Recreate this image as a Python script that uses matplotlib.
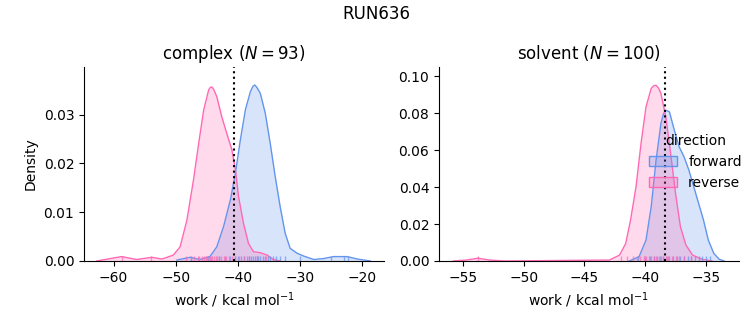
import matplotlib
matplotlib.use("Agg")
import matplotlib.pyplot as plt
from matplotlib.patches import Patch
import matplotlib.transforms as mtransforms

# ---- data (KDE curves: work value, density) ----
complex_fwd_x = [-49.8, -47.7, -46.1, -44.5, -43.4, -42.3, -41.2, -40.4, -39.6, -38.8, -38.0, -37.6, -37.3,
                 -37.0, -36.4, -35.6, -34.8, -34.0, -33.2, -32.4, -31.6, -30.5, -29.4, -27.8, -26.2, -24.6,
                 -22.45, -20.8, -18.7]
complex_fwd_y = [0.0002, 0.00075, 0.0003, 0.0009, 0.0029, 0.0071, 0.0126, 0.018, 0.0249, 0.031, 0.0347,
                 0.0358, 0.0361, 0.0357, 0.0344, 0.0303, 0.0241, 0.0173, 0.0111, 0.0057, 0.0026, 0.0016,
                 0.001, 0.0003, 0.0005, 0.0009, 0.0009, 0.0004, 0.0]
complex_rev_x = [-62.7, -58.7, -56.3, -53.85, -52.2, -50.4, -49.3, -48.2, -47.15, -46.3, -45.5, -44.7,
                 -44.45, -44.2, -43.9, -43.4, -42.6, -41.8, -40.97, -40.4, -39.9, -39.1, -38.3, -37.5,
                 -36.4, -35.3, -34.3, -33.2]
complex_rev_y = [0.0, 0.0009, 0.0003, 0.00075, 0.0004, 0.0012, 0.0029, 0.0084, 0.0166, 0.0242, 0.031,
                 0.0351, 0.0356, 0.0357, 0.0352, 0.0337, 0.0296, 0.0262, 0.0228, 0.0187, 0.0132, 0.0077,
                 0.0036, 0.0019, 0.0017, 0.0012, 0.0003, 0.0]

solvent_fwd_x = [-41.3, -40.5, -39.93, -39.5, -39.1, -38.7, -38.5, -38.3, -38.0, -37.6, -37.2, -36.8,
                 -36.4, -36.0, -35.6, -35.2, -34.8, -34.35, -33.9, -33.5]
solvent_fwd_y = [0.0, 0.0023, 0.0113, 0.0294, 0.0546, 0.0744, 0.0795, 0.0816, 0.0807, 0.0708, 0.0618,
                 0.0564, 0.0492, 0.0402, 0.0312, 0.0222, 0.0113, 0.0041, 0.0009, 0.0]
solvent_rev_x = [-55.8, -54.7, -53.77, -52.8, -51.6, -42.95, -42.1, -41.6, -41.2, -40.75, -40.34, -39.93,
                 -39.5, -39.3, -39.1, -38.9, -38.7, -38.3, -37.9, -37.5, -37.1, -36.65, -36.1, -35.3, -34.5]
solvent_rev_y = [0.0, 0.0005, 0.0015, 0.0005, 0.0, 0.0005, 0.0032, 0.0095, 0.0222, 0.0402, 0.0636, 0.0834,
                 0.0934, 0.0948, 0.0951, 0.0936, 0.0906, 0.078, 0.058, 0.0366, 0.0186, 0.0087, 0.0032,
                 0.0009, 0.0]

# rug positions (approximate)
complex_fwd_rug = [-47.5, -44.8, -43.0, -42.0, -41.2, -40.5, -40.0, -39.5, -39.0, -38.6, -38.2, -37.9,
                   -37.6, -37.3, -37.0, -36.7, -36.4, -36.0, -35.6, -35.2, -34.8, -34.3, -33.8, -33.2,
                   -32.5, -30.0, -25.0, -23.0, -22.3]
complex_rev_rug = [-58.7, -53.9, -48.3, -47.5, -47.0, -46.5, -46.2, -45.8, -45.5, -45.2, -45.0, -44.7,
                   -44.5, -44.3, -44.1, -43.9, -43.6, -43.3, -43.0, -42.7, -42.3, -41.9, -41.5, -41.0,
                   -40.5, -39.8, -39.0, -38.2, -37.0, -35.5]
solvent_fwd_rug = [-40.6, -40.0, -39.6, -39.3, -39.0, -38.8, -38.5, -38.2, -38.0, -37.7, -37.4, -37.1,
                   -36.8, -36.5, -36.2, -35.9, -35.6, -35.3, -35.0, -34.7]
solvent_rev_rug = [-53.8, -42.0, -41.5, -41.0, -40.7, -40.4, -40.1, -39.9, -39.7, -39.5, -39.3, -39.1,
                   -38.9, -38.7, -38.5, -38.3, -38.1, -37.8, -37.5, -37.2, -36.8, -36.2]

complex_dg = -40.6
solvent_dg = -38.4

panel_titles = ["complex ($N = 93$)", "solvent ($N = 100$)"]
directions = ["forward", "reverse"]
colors = {"forward": "cornflowerblue", "reverse": "hotpink"}

fig = plt.figure(figsize=(7.53, 3.25), dpi=100)
ax1 = fig.add_axes([0.1116, 0.197, 0.3984, 0.597])
ax2 = fig.add_axes([0.583, 0.197, 0.398, 0.597])
fig.suptitle("RUN636", y=0.985, fontsize=12)

panels = [
    (ax1, complex_fwd_x, complex_fwd_y, complex_rev_x, complex_rev_y, complex_fwd_rug, complex_rev_rug,
     complex_dg, (-64.75, -16.5), 0.0398, [-60, -50, -40, -30, -20], [0.0, 0.01, 0.02, 0.03]),
    (ax2, solvent_fwd_x, solvent_fwd_y, solvent_rev_x, solvent_rev_y, solvent_fwd_rug, solvent_rev_rug,
     solvent_dg, (-56.97, -32.3), 0.105, [-55, -50, -45, -40, -35], [0.0, 0.02, 0.04, 0.06, 0.08, 0.10]),
]

for i, (ax, fx, fy, rx, ry, frug, rrug, dg, xl, ytop, xt, yt) in enumerate(panels):
    for xs, ys, c in [(fx, fy, colors["forward"]), (rx, ry, colors["reverse"])]:
        ax.fill_between(xs, ys, 0, color=c, alpha=0.25, linewidth=0)
        ax.plot(xs, ys, color=c, lw=1)
    trans = mtransforms.blended_transform_factory(ax.transData, ax.transAxes)
    for rug, c in [(frug, colors["forward"]), (rrug, colors["reverse"])]:
        ax.vlines(rug, 0, 0.025, transform=trans, color=c, lw=1, alpha=0.7)
    ax.axvline(dg, color="black", ls=":", lw=1.5)
    ax.set_xlim(*xl)
    ax.set_ylim(0, ytop)
    ax.set_xticks(xt)
    ax.set_yticks(yt)
    ax.set_title(panel_titles[i])
    ax.set_xlabel("work / kcal mol$^{-1}$")
    ax.spines["top"].set_visible(False)
    ax.spines["right"].set_visible(False)

ax1.set_ylabel("Density")

handles = [Patch(facecolor=matplotlib.colors.to_rgba(colors[d], 0.25), edgecolor=colors[d], lw=1)
           for d in directions]
ax2.legend(handles, directions, title="direction", frameon=False, loc="center left",
           bbox_to_anchor=(0.66, 0.51))

fig.savefig("out.png", dpi=100)
